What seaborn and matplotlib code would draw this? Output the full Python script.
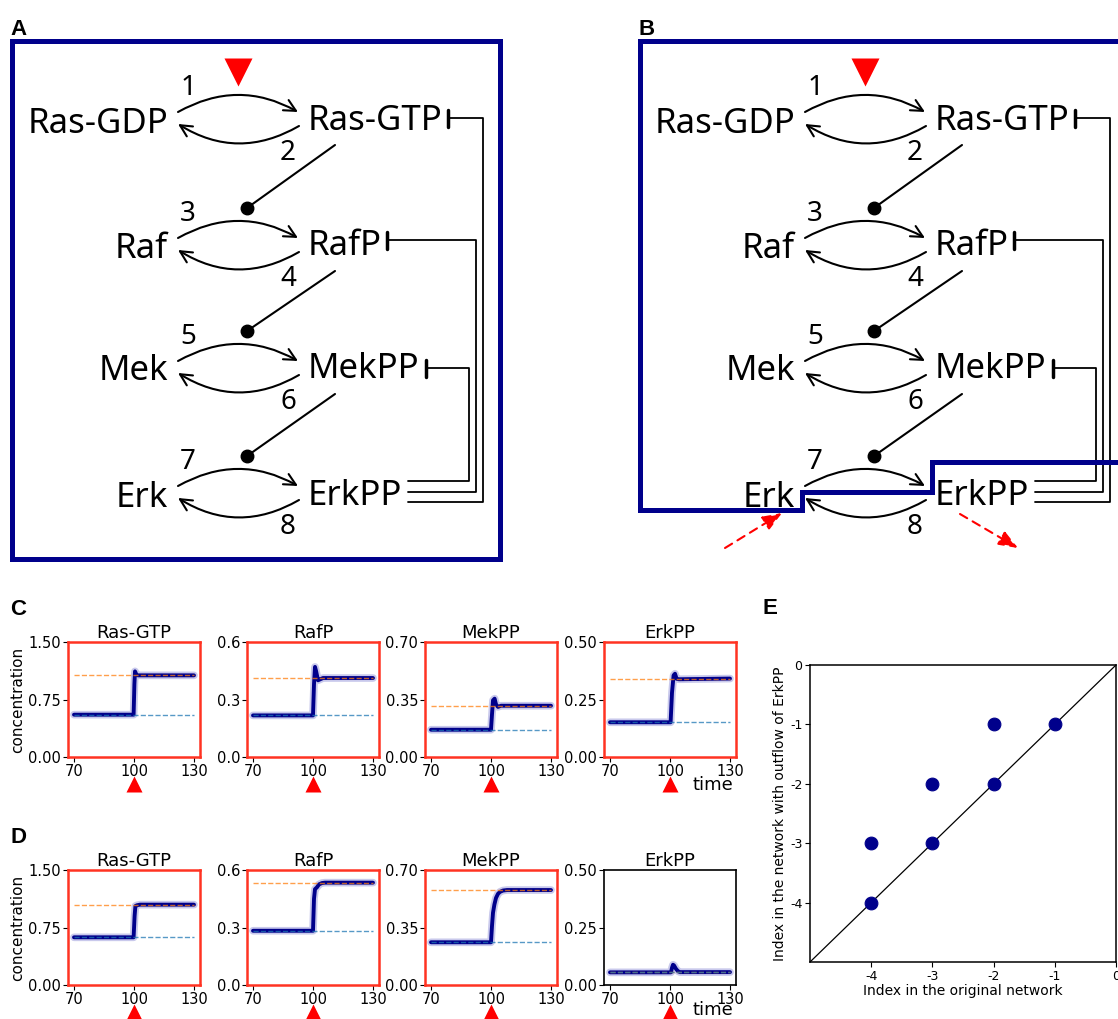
import matplotlib
matplotlib.use("Agg")
import matplotlib.pyplot as plt
import seaborn as sns
from matplotlib.patches import FancyArrowPatch, Rectangle

# ---- data ----
species = ["Ras-GTP", "RafP", "MekPP", "ErkPP"]
inactive = ["Ras-GDP", "Raf", "Mek", "Erk"]
y_max = [1.5, 0.6, 0.7, 0.5]
y_ticklabels = [["0.00", "0.75", "1.50"], ["0.0", "0.3", "0.6"],
                ["0.00", "0.35", "0.70"], ["0.00", "0.25", "0.50"]]

# panel C: original network
c_t = [[70, 99.8, 100.2, 100.5, 100.8, 101.2, 102, 130],
       [70, 100, 100.5, 101, 101.5, 102.5, 103.5, 105, 130],
       [70, 100, 100.5, 101, 101.8, 102.5, 103.5, 105, 130],
       [70, 100.3, 101, 101.8, 102.5, 103.3, 104.5, 130]]
c_y = [[0.552, 0.552, 0.95, 1.117, 1.10, 1.07, 1.065, 1.065],
       [0.217, 0.217, 0.38, 0.47, 0.45, 0.40, 0.405, 0.412, 0.412],
       [0.166, 0.166, 0.26, 0.345, 0.355, 0.32, 0.305, 0.312, 0.312],
       [0.151, 0.151, 0.28, 0.355, 0.362, 0.34, 0.338, 0.341]]
c_old = [0.552, 0.217, 0.166, 0.151]
c_new = [1.065, 0.412, 0.312, 0.341]

# panel D: network with outflow of ErkPP
d_t = [[70, 99.8, 100.3, 100.7, 101.5, 103, 130],
       [70, 100, 100.5, 101, 102, 103, 104.5, 106, 130],
       [70, 100, 100.5, 101, 101.7, 102.5, 103.5, 104.5, 106, 108, 130],
       [70, 100.5, 101, 101.5, 102, 103, 104, 105, 130]]
d_y = [[0.622, 0.622, 0.9, 1.03, 1.04, 1.048, 1.048],
       [0.283, 0.283, 0.45, 0.50, 0.51, 0.525, 0.532, 0.534, 0.534],
       [0.26, 0.26, 0.36, 0.44, 0.49, 0.53, 0.555, 0.567, 0.575, 0.578, 0.578],
       [0.055, 0.055, 0.075, 0.088, 0.085, 0.07, 0.06, 0.056, 0.056]]
d_old = [0.622, 0.283, 0.26, 0.056]
d_new = [1.048, 0.534, 0.578, 0.057]
d_red = [True, True, True, False]

# panel E
idx_original = [-4, -4, -3, -3, -2, -2, -1]
idx_outflow = [-4, -3, -3, -2, -2, -1, -1]

# ---- style ----
sns.set_style("ticks")
plt.rcParams['font.family'] = ['DejaVu Sans']
plt.rcParams['axes.unicode_minus'] = False
for key in ['text.color', 'axes.labelcolor', 'xtick.color', 'ytick.color',
            'axes.edgecolor']:
    plt.rcParams[key] = 'black'

NAVY = "#00008b"
RED = "#ff3322"
W, H = 1118, 1019
fig = plt.figure(figsize=(W / 100, H / 100), dpi=100)


def px_axes(left, top, right, bottom):
    return fig.add_axes([left / W, 1 - bottom / H, (right - left) / W, (bottom - top) / H])


# ---- network diagrams (A, B) ----
dg = fig.add_axes([0, 0, 1, 1])
dg.set_xlim(0, W)
dg.set_ylim(H, 0)
dg.axis("off")

DFONT = "Noto Sans"


def network(ax, dx):
    row_y = [119, 245, 368, 493]
    left_base = [133, 258, 380, 507]
    right_base = [130, 255, 378, 505]
    for i in range(4):
        yc = row_y[i]
        ax.text(168 + dx, left_base[i], inactive[i], ha="right", va="baseline",
                fontsize=25, family=DFONT, color="k")
        ax.text(308 + dx, right_base[i], species[i], ha="left", va="baseline",
                fontsize=25, family=DFONT, color="k")
        fwd = FancyArrowPatch((178 + dx, yc - 7), (298 + dx, yc - 7),
                              connectionstyle="arc3,rad=-0.28",
                              arrowstyle="->,head_length=0.6,head_width=0.3",
                              mutation_scale=14, lw=1.5, color="k",
                              shrinkA=0, shrinkB=0)
        bwd = FancyArrowPatch((299 + dx, yc + 7), (178 + dx, yc + 5),
                              connectionstyle="arc3,rad=-0.3",
                              arrowstyle="->,head_length=0.6,head_width=0.3",
                              mutation_scale=14, lw=1.5, color="k",
                              shrinkA=0, shrinkB=0)
        ax.add_patch(fwd)
        ax.add_patch(bwd)
        ax.text(188 + dx, yc - 31, str(2 * i + 1), ha="center", va="center",
                fontsize=20, family=DFONT, color="k")
        ax.text(288 + dx, yc + 34, str(2 * i + 2), ha="center", va="center",
                fontsize=20, family=DFONT, color="k")
        if i < 3:
            y2 = row_y[i + 1] - 37
            ax.plot([335 + dx, 247 + dx], [yc + 26, y2], color="k", lw=1.5)
            ax.plot([247 + dx], [y2], "o", color="k", ms=9)
    # feedback from ErkPP
    fb = [(481, 469, 368, 426), (492, 476, 240, 387), (502, 483, 118, 448)]
    for y0, xv, yt, xb in fb:
        ax.plot([408 + dx, xv + dx, xv + dx, xb + dx], [y0, y0, yt, yt],
                color="k", lw=1.3)
        ax.plot([xb + dx, xb + dx], [yt - 8, yt + 9], color="k", lw=2.5)
    # stimulus
    ax.plot([238 + dx], [72], marker="v", color="red", ms=20, mec="none")


network(dg, 0)
network(dg, 627)

dg.add_patch(Rectangle((12, 41), 488, 518, fill=False, ec=NAVY, lw=3.6))
dg.plot([1125, 640, 640, 802, 802, 932, 932, 1125],
        [41, 41, 510, 510, 492, 492, 462, 462], color=NAVY, lw=3.6,
        solid_joinstyle="miter")
for (x0, y0), (x1, y1) in [((725, 548), (782, 513)), ((960, 514), (1018, 548))]:
    dg.annotate("", xy=(x1, y1), xytext=(x0, y0),
                arrowprops=dict(arrowstyle="-|>,head_length=0.9,head_width=0.35",
                                color="red", lw=1.5, ls=(0, (4, 3)),
                                mutation_scale=13, shrinkA=0, shrinkB=0))

for lab, x, y in [("A", 10, 35), ("B", 638, 35), ("C", 10, 615),
                  ("D", 10, 843), ("E", 762, 614)]:
    dg.text(x, y, lab, fontsize=16, fontweight="bold", family="Liberation Sans",
            ha="left", va="baseline", color="k")


# ---- time courses (C, D) ----
def time_panel(ax, t, y, old, new, ymax, labels, title, red, first, time_y):
    sns.lineplot(x=t, y=y, ax=ax, color="#7a7ad0", lw=5.5, alpha=0.4,
                 estimator=None)
    sns.lineplot(x=t, y=y, ax=ax, color=NAVY, lw=2.8, estimator=None)
    ax.plot([t[0], t[-1]], [new, new], ls="--", color="#ff7f0e", lw=1,
            alpha=0.75, zorder=4)
    ax.plot([t[0], t[-1]], [old, old], ls="--", color="#1f77b4", lw=1,
            alpha=0.75, zorder=4)
    ax.set_xlim(67, 133)
    ax.set_ylim(0, ymax)
    ax.set_xticks([70, 100, 130])
    ax.set_yticks([0, ymax / 2, ymax])
    ax.set_yticklabels(labels)
    ax.tick_params(labelsize=10.5, length=3.5, pad=1.5)
    ax.set_title(title, fontsize=13, pad=3)
    for sp in ax.spines.values():
        sp.set_visible(True)
        sp.set_color(RED if red else "k")
        sp.set_linewidth(1.8 if red else 1.2)
    if first:
        ax.set_ylabel("concentration", fontsize=11, labelpad=2)
    ax.plot([100], [-0.235], marker="^", color="red", ms=11, mec="none",
            transform=ax.get_xaxis_transform(), clip_on=False)
    if time_y is not None:
        ax.text(0.67, time_y, "time", transform=ax.transAxes, fontsize=13,
                va="baseline", ha="left")


lefts = [68, 247, 425, 604]
for i in range(4):
    ax = px_axes(lefts[i], 642, lefts[i] + 132, 757)
    time_panel(ax, c_t[i], c_y[i], c_old[i], c_new[i], y_max[i], y_ticklabels[i],
               species[i], True, i == 0, -0.29 if i == 3 else None)
    ax = px_axes(lefts[i], 870, lefts[i] + 132, 985)
    time_panel(ax, d_t[i], d_y[i], d_old[i], d_new[i], y_max[i], y_ticklabels[i],
               species[i], d_red[i], i == 0, -0.265 if i == 3 else None)

# ---- index comparison (E) ----
ax = px_axes(810, 665, 1116, 962)
ax.axline((0, 0), slope=1, color="k", lw=0.9)
sns.scatterplot(x=idx_original, y=idx_outflow, ax=ax, s=85, color=NAVY,
                edgecolor=NAVY, zorder=3)
ax.set_xlim(-5, 0)
ax.set_ylim(-5, 0)
ax.set_xticks([-4, -3, -2, -1, 0])
ax.set_yticks([-4, -3, -2, -1, 0])
ax.tick_params(labelsize=9, length=3.5, pad=2)
for sp in ax.spines.values():
    sp.set_visible(True)
    sp.set_linewidth(1.1)
ax.set_xlabel("Index in the original network", fontsize=10, labelpad=1)
ax.set_ylabel("Index in the network with outflow of ErkPP", fontsize=10,
              labelpad=2)

fig.savefig("out.png", dpi=100)
